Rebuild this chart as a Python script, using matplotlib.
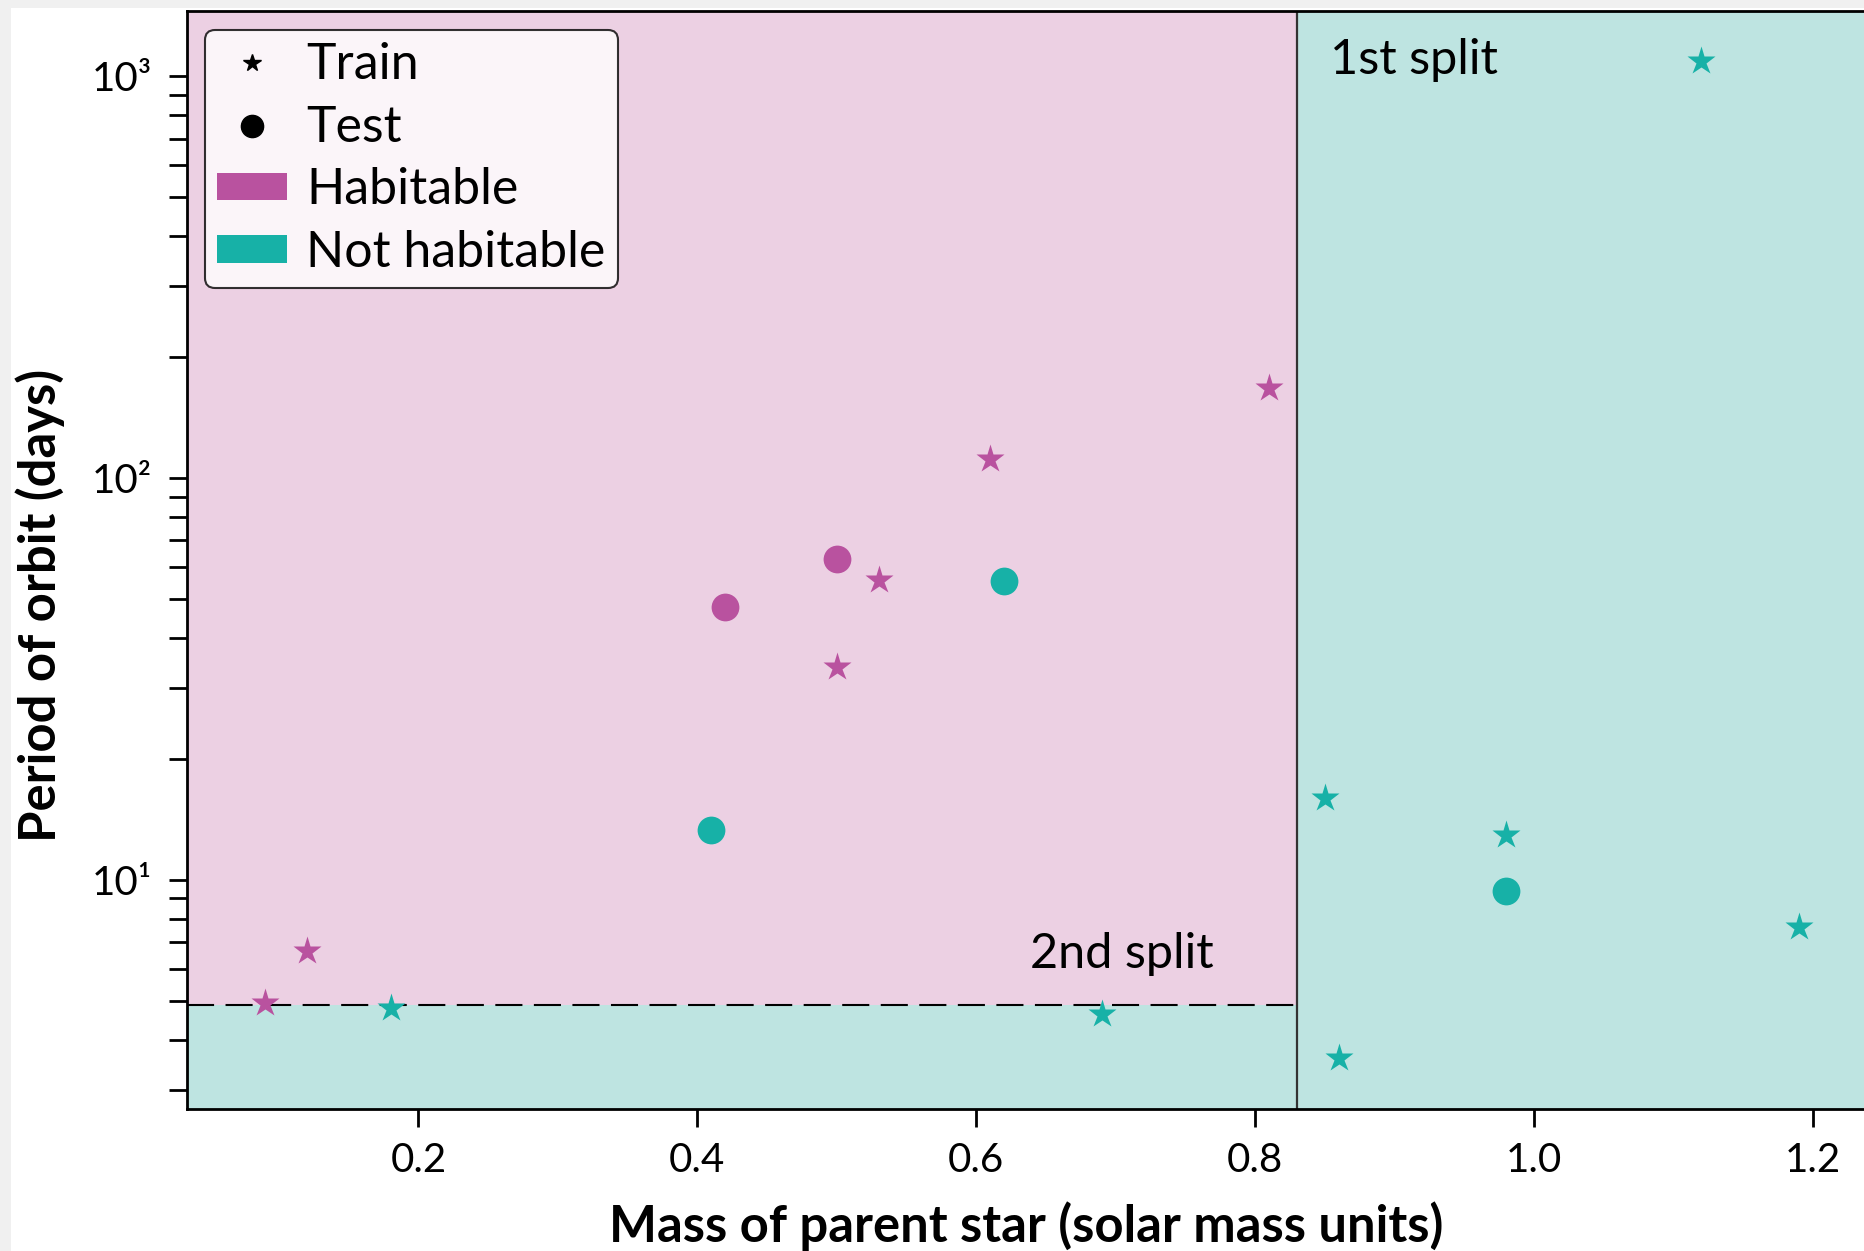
import numpy as np
import matplotlib.pyplot as plt
from matplotlib.patches import Patch, Rectangle
from matplotlib.lines import Line2D

plt.rcParams['font.family'] = ['Lato', 'DejaVu Sans']

# training planets
train_hab_mass = [0.09, 0.12, 0.50, 0.53, 0.61, 0.81]
train_hab_period = [4.95, 6.64, 33.9, 55.7, 111.5, 168]
train_not_mass = [0.18, 0.69, 0.85, 0.86, 0.98, 1.12, 1.19]
train_not_period = [4.8, 4.63, 16.0, 3.6, 12.95, 1093, 7.62]

# test planets
test_hab_mass = [0.42, 0.50]
test_hab_period = [47.9, 62.9]
test_not_mass = [0.62, 0.41, 0.98]
test_not_period = [55.4, 13.3, 9.4]

# decision tree splits
split1_mass = 0.83
split2_period = 4.88

xticks = [0.2, 0.4, 0.6, 0.8, 1.0, 1.2]
xtick_labels = ['0.2', '0.4', '0.6', '0.8', '1.0', '1.2']
yticks = [10, 100, 1000]
ytick_labels = ['10¹', '10²', '10³']

xlim = (0.034, 1.2375)
ylim = (2.70, 1456)

hab_col = '#b9529f'
not_col = '#17b1a7'
hab_bg = '#ecd0e3'
not_bg = '#bee4e1'

fig = plt.figure(figsize=(18.65, 12.51), dpi=100)
fig.patch.set_facecolor('#f0f0f0')
fig.add_artist(Rectangle((11 / 1865, 0), 1, 1 - 8 / 1251, transform=fig.transFigure,
                         facecolor='white', edgecolor='none', zorder=-5))
ax = fig.add_axes([0.1003, 0.1139, 0.8997, 0.8775])

ax.set_yscale('log')
ax.set_xlim(xlim)
ax.set_ylim(ylim)

# regions
ax.set_facecolor(not_bg)
ax.fill_between([xlim[0], split1_mass], split2_period, ylim[1], color=hab_bg, lw=0, zorder=0)
ax.axvline(split1_mass, color='#333333', lw=1.6, zorder=1)
ax.hlines(split2_period, xlim[0], split1_mass, colors='black', linestyles=(0, (13, 5.5)),
          lw=1.5, zorder=1)

# points
ax.plot(train_hab_mass, train_hab_period, '*', color=hab_col, ms=21, mec='none', zorder=3)
ax.plot(train_not_mass, train_not_period, '*', color=not_col, ms=21, mec='none', zorder=3)
ax.plot(test_hab_mass, test_hab_period, 'o', color=hab_col, ms=20, mec='none', zorder=3)
ax.plot(test_not_mass, test_not_period, 'o', color=not_col, ms=20, mec='none', zorder=3)

ax.text(0.854, 1100, '1st split', fontsize=35, va='center', ha='left')
ax.text(0.6386, 6.56, '2nd split', fontsize=35, va='center', ha='left')

# axes styling
ax.spines['right'].set_visible(False)
for s in ['left', 'bottom', 'top']:
    ax.spines[s].set_linewidth(2)
ax.set_xticks(xticks)
ax.set_xticklabels(xtick_labels)
ax.set_yticks(yticks)
ax.set_yticklabels(ytick_labels)
ax.tick_params(axis='both', which='major', direction='out', length=13, width=2,
               labelsize=29)
ax.tick_params(axis='x', pad=11)
ax.tick_params(axis='y', pad=12)
ax.tick_params(axis='y', which='minor', direction='out', length=13, width=2,
               labelleft=False)
ax.tick_params(axis='x', which='minor', bottom=False)

ax.set_xlabel('Mass of parent star (solar mass units)', fontsize=36.5, fontweight='bold')
ax.set_ylabel('Period of orbit (days)', fontsize=36.5, fontweight='bold')
ax.xaxis.set_label_coords(0.5, -0.085)
ax.yaxis.set_label_coords(-0.073, 0.4585)

handles = [
    Line2D([], [], marker='*', color='black', ls='none', ms=13),
    Line2D([], [], marker='o', color='black', ls='none', ms=16),
    Patch(facecolor=hab_col, edgecolor='none'),
    Patch(facecolor=not_col, edgecolor='none'),
]
labels = ['Train', 'Test', 'Habitable', 'Not habitable']
leg = ax.legend(handles, labels, loc='upper left', bbox_to_anchor=(0.0105, 0.9827),
                borderaxespad=0, fontsize=36, labelspacing=0.33, handlelength=1.4,
                handleheight=0.48, handletextpad=0.38, borderpad=0.25,
                framealpha=0.8, edgecolor='black', fancybox=True)
leg.get_frame().set_linewidth(1.5)
leg.set_zorder(5)

fig.savefig('out.png', dpi=100)
